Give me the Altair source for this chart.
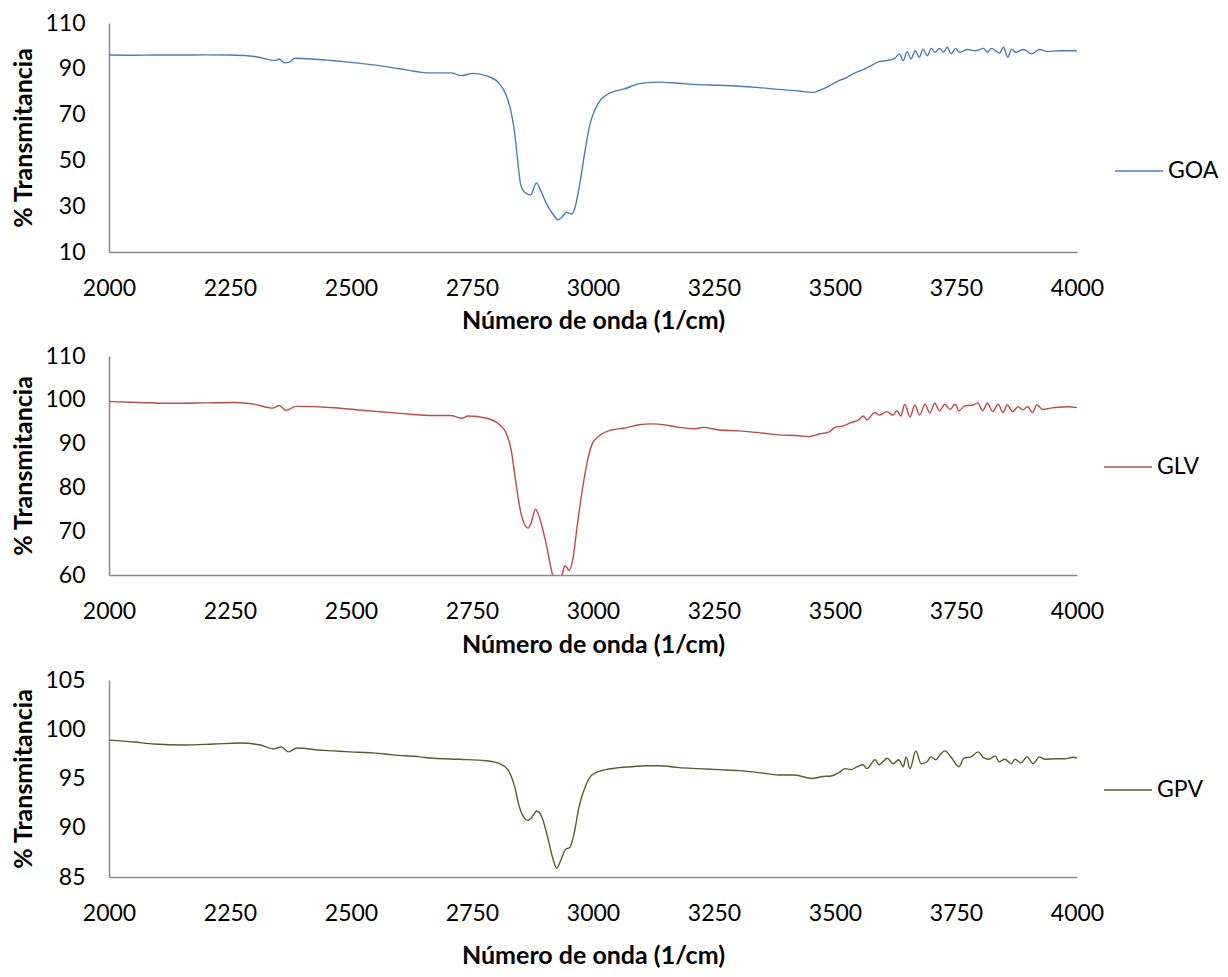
import altair as alt
import pandas as pd

# ---------------- data ----------------
x_ticks = [2000, 2250, 2500, 2750, 3000, 3250, 3500, 3750, 4000]

goa_wn = [2000, 2050, 2100, 2150, 2200, 2250, 2290, 2315, 2335, 2345, 2351, 2363, 2372, 2384,
          2420, 2460, 2500, 2550, 2600, 2665, 2707, 2728, 2752, 2783, 2804, 2821, 2831, 2838,
          2844, 2851, 2859, 2871, 2883, 2892, 2904, 2917, 2928, 2936, 2945, 2955, 2962, 2972,
          2983, 2993, 3003, 3017, 3038, 3065, 3093, 3134, 3176, 3217, 3259, 3301, 3342, 3384,
          3425, 3454, 3475, 3508, 3525, 3541, 3558, 3575, 3591, 3607, 3624, 3633, 3641, 3649,
          3657, 3666, 3674, 3682, 3691, 3699, 3707, 3716, 3724, 3732, 3740, 3749, 3757, 3774,
          3790, 3807, 3815, 3823, 3840, 3848, 3857, 3865, 3873, 3890, 3906, 3923, 3939, 3964,
          4000]
goa_t = [96.0, 95.9, 96.0, 96.0, 96.1, 96.0, 95.6, 94.8, 93.8, 93.6, 94.3, 92.6, 92.8, 94.6,
         94.3, 93.6, 92.8, 91.6, 90.0, 88.2, 88.2, 87.0, 88.0, 86.7, 84.1, 78.3, 71.0, 62.3,
         50.6, 39.0, 36.1, 34.9, 40.1, 36.8, 31.0, 26.6, 24.1, 25.2, 27.3, 26.6, 28.8, 39.0,
         53.5, 65.2, 71.7, 76.8, 79.7, 81.2, 83.4, 84.2, 83.7, 83.1, 82.8, 82.4, 81.8, 81.0,
         80.3, 79.7, 81.2, 84.8, 86.3, 88.2, 89.6, 91.4, 93.1, 93.6, 94.7, 96.5, 93.6, 97.5,
         94.3, 97.9, 95.0, 98.6, 95.7, 98.9, 97.2, 98.9, 97.2, 99.4, 96.5, 98.9, 97.2, 98.4,
         97.9, 98.9, 97.2, 98.9, 96.9, 99.4, 95.0, 98.6, 97.2, 98.4, 96.5, 98.4, 97.5, 97.9,
         97.9]

glv_wn = [2000, 2060, 2122, 2200, 2259, 2300, 2338, 2352, 2366, 2386, 2465, 2534, 2602, 2671,
          2705, 2729, 2742, 2780, 2808, 2821, 2831, 2838, 2845, 2852, 2866, 2873, 2881, 2890,
          2903, 2917, 2926, 2936, 2942, 2951, 2958, 2968, 2979, 2989, 2999, 3013, 3038, 3068,
          3096, 3120, 3153, 3178, 3211, 3228, 3261, 3302, 3343, 3384, 3426, 3446, 3467, 3488,
          3500, 3516, 3533, 3549, 3558, 3566, 3582, 3591, 3607, 3620, 3628, 3636, 3644, 3655,
          3665, 3675, 3686, 3696, 3706, 3716, 3727, 3738, 3748, 3756, 3768, 3785, 3795, 3805,
          3815, 3826, 3837, 3847, 3856, 3867, 3878, 3888, 3898, 3908, 3917, 3929, 3946, 3962,
          3983, 4000]
glv_t = [99.6, 99.4, 99.2, 99.3, 99.4, 99.0, 98.1, 98.7, 97.6, 98.5, 98.2, 97.5, 96.9, 96.4,
         96.4, 95.8, 96.3, 95.8, 94.2, 92.3, 88.5, 83.2, 77.9, 73.7, 70.7, 72.2, 75.0, 72.9,
         67.2, 59.8, 57.5, 60.0, 62.1, 61.1, 63.4, 71.8, 80.2, 86.3, 90.1, 91.8, 93.1, 93.6,
         94.3, 94.5, 94.2, 93.7, 93.4, 93.7, 93.1, 92.9, 92.5, 92.0, 91.8, 91.6, 92.2, 92.7,
         93.7, 94.0, 94.8, 95.4, 96.3, 95.4, 97.1, 96.5, 97.3, 96.5, 97.5, 96.3, 99.0, 96.1,
         98.8, 96.5, 99.0, 97.0, 99.2, 97.5, 99.0, 97.8, 99.0, 97.5, 98.6, 98.8, 99.3, 97.5,
         99.2, 97.3, 99.0, 97.1, 98.8, 97.3, 98.4, 97.7, 98.4, 97.1, 98.8, 97.8, 98.1, 98.3,
         98.4, 98.2]

gpv_wn = [2000, 2052, 2093, 2155, 2217, 2272, 2313, 2340, 2356, 2371, 2388, 2430, 2464, 2498,
          2546, 2587, 2642, 2670, 2724, 2779, 2807, 2824, 2838, 2848, 2858, 2865, 2874, 2884,
          2895, 2906, 2917, 2925, 2935, 2943, 2952, 2961, 2971, 2985, 2999, 3026, 3054, 3081,
          3109, 3136, 3178, 3219, 3260, 3302, 3343, 3384, 3417, 3451, 3475, 3492, 3508, 3521,
          3533, 3546, 3558, 3566, 3583, 3591, 3608, 3620, 3632, 3641, 3647, 3655, 3667, 3678,
          3690, 3698, 3708, 3717, 3727, 3740, 3756, 3766, 3781, 3796, 3806, 3818, 3831, 3839,
          3851, 3864, 3872, 3884, 3897, 3909, 3922, 3934, 3955, 3975, 3992, 4000]
gpv_t = [98.9, 98.7, 98.5, 98.4, 98.5, 98.6, 98.4, 98.0, 98.2, 97.7, 98.1, 97.9, 97.8, 97.7,
         97.6, 97.4, 97.2, 97.05, 96.95, 96.8, 96.5, 95.9, 94.2, 92.1, 91.0, 90.75, 91.1, 91.7,
         91.0, 89.1, 86.9, 85.9, 86.9, 87.8, 88.0, 89.4, 92.1, 94.3, 95.4, 95.9, 96.1, 96.2,
         96.3, 96.3, 96.1, 96.0, 95.9, 95.8, 95.6, 95.35, 95.35, 95.0, 95.2, 95.25, 95.6, 96.0,
         95.9, 96.2, 96.4, 96.0, 96.9, 96.4, 97.05, 96.5, 96.9, 96.2, 97.2, 96.0, 97.8, 96.5,
         96.7, 97.2, 96.9, 97.4, 97.8, 97.15, 96.2, 97.05, 97.2, 97.7, 97.15, 96.95, 97.3, 96.7,
         96.95, 96.5, 96.95, 96.6, 97.2, 96.5, 97.2, 96.95, 97.0, 97.0, 97.15, 97.1]

goa_yticks = [10, 30, 50, 70, 90, 110]
glv_yticks = [60, 70, 80, 90, 100, 110]
gpv_yticks = [85, 90, 95, 100, 105]

# ---------------- styling ----------------
FONT = "Lato"
AXIS_GRAY = "#898989"
W = 968


def panel(wn, t, name, color, yticks, height, x_title_pad, leg_x, leg_y):
    df = pd.DataFrame({"wn": wn, "t": t, "serie": name})
    return (
        alt.Chart(df)
        .mark_line(strokeWidth=1.4, clip=True, interpolate="monotone")
        .encode(
            x=alt.X(
                "wn:Q",
                scale=alt.Scale(domain=[x_ticks[0], x_ticks[-1]], nice=False, zero=False),
                axis=alt.Axis(
                    values=x_ticks, title="Número de onda (1/cm)", format="d",
                    titlePadding=x_title_pad, labelFlush=False, labelPadding=25,
                ),
            ),
            y=alt.Y(
                "t:Q",
                scale=alt.Scale(domain=[yticks[0], yticks[-1]], nice=False, zero=False),
                axis=alt.Axis(values=yticks, title="% Transmitancia", format="d",
                              labelFlush=False),
            ),
            color=alt.Color(
                "serie:N",
                scale=alt.Scale(domain=[name], range=[color]),
                legend=alt.Legend(
                    title=None, orient="none", legendX=leg_x, legendY=leg_y,
                    symbolType="stroke", symbolSize=2304, symbolStrokeWidth=1.4,
                    labelFont=FONT, labelFontSize=23, labelColor="#000000",
                    labelOffset=4, padding=0,
                ),
            ),
        )
        .properties(width=W, height=height)
    )


p1 = panel(goa_wn, goa_t, "GOA", "#4A7EBB", goa_yticks, 229, 8, 1005, 123)
p2 = panel(glv_wn, glv_t, "GLV", "#BE4B48", glv_yticks, 219, 9, 994, 86)
p3 = panel(gpv_wn, gpv_t, "GPV", "#4F6228", gpv_yticks, 197, 18, 994, 85)

chart = (
    alt.vconcat(p1, p2, p3, spacing=12)
    .resolve_scale(color="independent", x="independent", y="independent")
    .properties(padding={"left": 3, "top": 4, "right": 0, "bottom": 0})
    .configure_view(stroke=None)
    .configure_axis(
        grid=False, ticks=False, tickSize=0,
        domainColor=AXIS_GRAY, domainWidth=1.5,
        labelFont=FONT, labelFontSize=23, labelColor="#000000", labelPadding=23,
        titleFont=FONT, titleFontSize=25, titleFontWeight="bold", titleColor="#000000",
    )
    .configure_axisY(titlePadding=8, labelPadding=24)
)

chart.save("out.html", embed_options={"renderer": "svg", "actions": False})
